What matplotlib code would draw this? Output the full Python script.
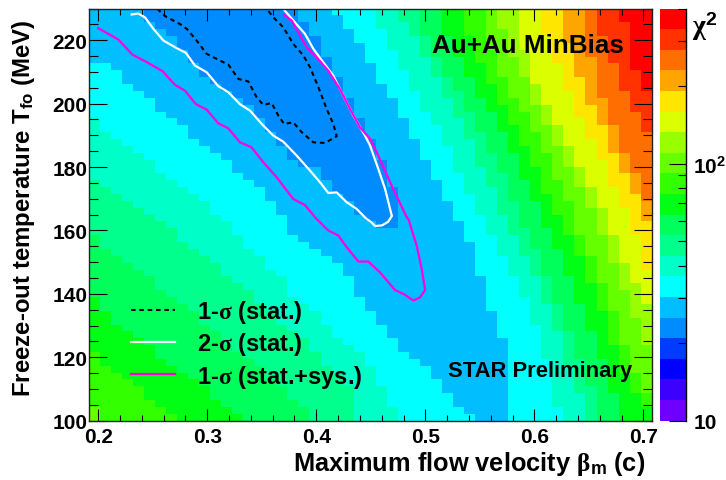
import numpy as np
import matplotlib
matplotlib.use("Agg")
import matplotlib.pyplot as plt
from matplotlib.colors import ListedColormap, BoundaryNorm
from matplotlib.ticker import FixedLocator, NullFormatter

plt.rcParams['font.family'] = ['Liberation Sans', 'DejaVu Sans']
plt.rcParams['font.weight'] = 'bold'
plt.rcParams['mathtext.fontset'] = 'custom'
plt.rcParams['mathtext.rm'] = 'Liberation Serif'
plt.rcParams['mathtext.bf'] = 'Liberation Sans:bold'
plt.rcParams['mathtext.default'] = 'rm'

W, H = 726, 481
NCOL, NROW = 51, 60

palette = ['#6e00ff', '#3c00ff', '#0000ff', '#003cff', '#008cff', '#00beff', '#00ffff',
           '#00ffc8', '#00ff8c', '#00ff5a', '#00ff14', '#32ff00', '#66ff00', '#99ff00',
           '#dcff00', '#ffe600', '#ffa500', '#ff6e00', '#ff3200', '#ff0000']

# Band limits read per row (row 0 = bottom): column where the band starts, right-hand side
right_b6 = [38]*12 + [37,37,37,37,36,36,36,36,36,35,35,35,35,35,34,34,34,33,33,33,32,32,32,31,31,31,
            30,30,30,29,29,29,28,28,28,27,27,26,26,26,25,25,25,24,24,23,23,22]
right_b7 = [43,43,42,42,42,42,42,42,42,41,41,41,41,41,40,40,40,40,39,39,39,38,38,38,37,37,37,36,36,36,
            35,35,35,34,34,34,33,33,33,33,32,32,32,31,31,30,30,30,29,29,29,28,28,28,27,27,27,26,26,26]
right_b8 = [45,45,45,45,44,44,44,44,43,43,43,43,43,42,42,42,42,41,41,41,41,40,40,40,39,39,39,38,38,38,
            37,37,37,37,36,36,36,35,35,35,35,34,34,34,33,33,33,32,32,32,31,31,31,30,30,30,29,29,28,28]
right_b9 = [46,46,46,46,46,45,45,45,45,44,44,44,44,43,43,43,43,42,42,42,42,41,41,41,41,40,40,40,39,39,39,39,
            38,38,38,38,37,37,37,36,36,36,35,35,35,34,34,34,33,33,32,32,32,31,31,31,30,30,30,30]
right_b10 = [48,48,48,48,47,47,47,47,47,46,46,46,46,45,45,45,45,44,44,44,44,43,43,43,43,42,42,42,41,41,41,41,
             40,40,40,39,39,39,39,38,38,38,37,37,37,36,36,35,35,35,34,34,34,33,33,33,32,32,32,32]
right_b11 = [51,51,50,50,49,49,49,48,48,48,48,47,47,47,47,47,46,46,46,46,45,45,45,45,44,44,44,43,43,43,
             42,42,42,41,41,41,41,40,40,40,39,39,39,38,38,38,37,37,37,36,36,36,35,35,35,35,34,34,34,34]
right_b12 = [51,51,51,51,50,50,50,49,49,49,49,48,48,48,48,48,47,47,47,47,46,46,46,46,45,45,45,44,44,44,44,44,
             43,43,43,42,42,42,42,41,41,41,40,40,40,39,39,38,38,38,37,37,37,37,36,36,36,36,36,36]
right_b13 = [51]*11 + [50,50,50,50,49,49,49,49,48,48,48,48,47,47,47,47,46,46,46,46,
                       45,45,45,44,44,44,43,43,43,42,42,42,41,41,41,40,40,40,40,39,39,39,38,38,38,38,37,37,37]
right_b14 = [51]*17 + [50,50,50,49,49,49,48,48,48,48,47,47,47,47,46,46,46,45,45,45,44,44,44,
                       43,43,43,42,42,42,41,41,41,40,40,40,40,40,39,39,39,39,39,39]
right_b15 = [51]*22 + [50,50,50,50,50,49,49,49,49,48,48,48,47,47,47,47,46,46,46,45,45,45,
                       44,44,44,44,43,43,43,43,42,42,42,42,41,41,41,41]
right_b16 = [51]*29 + [50,50,50,50,49,49,49,48,48,48,47,47,47,47,46,46,46,45,45,45,45,
                       44,44,44,44,44,43,43,43,43,43]
right_b17 = [51]*32 + [50,50,50,50,49,49,49,48,48,48,48,47,47,47,47,46,46,46,46,46,46,45,45,45,45,45,45,45]
right_b18 = [51]*42 + [50,50,50,49,49,49,48,48,48,48,47,47,47,47,46,46,46,46]
right_b19 = [51]*48 + [50,50,50,49,49,49,49,49,49,49,48,48]

# Left-hand side: columns below this one belong to the band
left_b6 = [35,34,33,33,32,32,31,31,30,29,28,28,27,27,26,26,25,25,24,24,24,23,23,22,21,20,19,18,18,18,
           17,17,16,16,15,14,13,13,12,11,10,9,9,8,7,6,6,5,4,3,3,2]
left_b7 = [28,28,27,27,27,26,26,26,25,25,24,23,22,22,21,21,20,19,18,18,18,17,16,16,15,14,14,13,13,12,
           11,11,10,9,8,7,6,6,5,4,3,2,1,1]
left_b8 = [24,24,24,24,24,23,23,22,21,21,20,20,19,18,17,17,16,15,15,14,13,12,12,11,10,9,8,8,7,6,5,4,3,2,1]
left_b9 = [20,20,19,18,18,17,16,16,15,14,13,12,12,11,10,10,9,8,7,6,6,5,4,3,2,1,1]
left_b10 = [14,13,12,11,11,10,9,8,7,6,6,5,4,3,2,2,1,1]
left_b11 = [8,7,6,5,5,4,3,2,1,1]
left_b12 = [1,1]

# Darkest (minimum) island: first and last+1 column for rows 28..59
island_start = [26,25,24,24,23,22,22,21,21,19,18,18,17,17,16,16,15,15,14,13,12,11,10,10,9,9,8,8,7,6,5,5]
island_stop = [28,28,28,28,28,28,27,27,27,27,26,26,26,25,25,25,24,24,24,23,23,23,22,22,22,21,21,21,20,20,19,19]
island_first_row = 28

# Contours (velocity, temperature)
sig1_x = [.2541,.2612,.2749,.2811,.2902,.2994,.3116,.3193,.3285,.3376,.3453,.3514,.3590,.3652,.3704,
          .3789,.3866,.3973,.4080,.4187,.4156,.4095,.4019,.3942,.3881,.3789,.3697,.3606,.3545]
sig1_y = [229.9,227.6,225.1,223.6,219.9,215.7,213.6,212.3,207.8,207.0,202.0,199.6,200.2,196.2,193.6,
          194.1,191.0,187.8,187.6,189.7,193.6,198.3,205.2,211.5,215.2,218.8,224.1,227.2,229.9]
sig2_x = [.2306,.2367,.2428,.2505,.2597,.2719,.2804,.2887,.2994,.3101,.3193,.3300,.3392,.3499,.3606,.3697,
          .3820,.3942,.4034,.4110,.4187,.4279,.4370,.4462,.4502,.4539,.4603,.4658,.4694,.4692,.4631,.4569,
          .4493,.4447,.4340,.4248,.4156,.4064,.3973,.3896,.3789,.3697]
sig2_y = [228.1,228.4,227.2,223.6,219.9,217.5,216.0,212.0,209.9,205.5,203.6,199.8,197.8,193.6,189.9,188.0,
          183.6,178.9,175.2,171.8,172.0,168.9,166.8,163.6,162.7,161.4,161.6,162.7,164.6,164.7,173.1,179.4,
          186.8,189.9,196.2,202.5,208.8,213.0,217.3,222.0,226.2,229.9]
sys_x = [.2000,.2184,.2315,.2444,.2590,.2704,.2795,.2893,.2994,.3101,.3193,.3300,.3407,.3514,.3636,.3789,
         .3896,.4003,.4110,.4202,.4279,.4386,.4477,.4584,.4722,.4799,.4891,.4952,.4998,.4967,.4921,.4845,
         .4829,.4692,.4554,.4493,.4401,.4309,.4217,.4110,.4003,.3911,.3835,.3774,.3704]
sys_y = [223.8,220.2,215.4,213.1,210.2,205.9,204.1,199.9,198.1,193.8,192.2,187.8,186.2,181.5,176.8,169.9,
         168.0,163.6,160.0,158.4,154.7,150.2,150.2,146.8,141.2,140.0,137.9,138.9,141.2,147.9,155.2,163.6,
         164.2,174.1,184.7,188.9,192.5,198.3,204.6,210.4,214.6,217.8,222.5,226.2,228.0]

legend_labels = [r'1-$\sigma$ (stat.)', r'2-$\sigma$ (stat.)', r'1-$\sigma$ (stat.+sys.)']
xticks_major = [0.2, 0.3, 0.4, 0.5, 0.6, 0.7]
yticks_major = [100, 120, 140, 160, 180, 200, 220]

# Build the band grid
grid = np.full((NROW, NCOL), 5, dtype=int)
for band, edge in [(6, right_b6), (7, right_b7), (8, right_b8), (9, right_b9), (10, right_b10),
                   (11, right_b11), (12, right_b12), (13, right_b13), (14, right_b14), (15, right_b15),
                   (16, right_b16), (17, right_b17), (18, right_b18), (19, right_b19)]:
    for r, k in enumerate(edge[:NROW]):
        grid[r, k:] = band
for band, edge in [(6, left_b6), (7, left_b7), (8, left_b8), (9, left_b9),
                   (10, left_b10), (11, left_b11), (12, left_b12)]:
    for r, k in enumerate(edge[:NROW]):
        grid[r, :k] = band
for i, (a, b) in enumerate(zip(island_start, island_stop)):
    grid[island_first_row + i, a:b] = 4

chi_lo, chi_hi = 10.0, 401.0
levels = np.logspace(np.log10(chi_lo), np.log10(chi_hi), len(palette) + 1)
centers = np.sqrt(levels[:-1] * levels[1:])
chi2 = centers[grid]
cmap = ListedColormap(palette)
norm = BoundaryNorm(levels, cmap.N)

fig = plt.figure(figsize=(W / 100, H / 100), dpi=100)
L, R, T, B = 88.7, 651.7, 9.5, 421.7
ax = fig.add_axes([L / W, 1 - B / H, (R - L) / W, (B - T) / H])
xmin, xmax = 0.1912, 0.7077
ymin, ymax = 100.0, 230.0
xe = np.linspace(xmin, xmax, NCOL + 1)
ye = np.linspace(ymin, ymax, NROW + 1)
ax.pcolormesh(xe, ye, chi2, cmap=cmap, norm=norm, shading='flat', rasterized=True)
ax.set_xlim(xmin, xmax)
ax.set_ylim(ymin, ymax)

l1, = ax.plot(sig1_x, sig1_y, color='k', lw=1.5, ls=(0, (2.2, 1.8)))
l2, = ax.plot(sig2_x, sig2_y, color='white', lw=1.6)
l3, = ax.plot(sys_x, sys_y, color='#ff00e6', lw=1.6)

ax.set_xticks(xticks_major)
ax.set_xticks(np.arange(0.2, 0.7001, 0.02), minor=True)
ax.set_yticks(yticks_major)
ax.set_yticks(np.arange(100, 231, 5), minor=True)
ax.tick_params(axis='x', which='major', direction='in', top=True, bottom=True, length=8.4, width=0.8,
               labelsize=15, pad=4.5)
ax.tick_params(axis='x', which='minor', direction='in', top=True, bottom=True, length=4, width=0.8)
ax.tick_params(axis='y', which='major', direction='in', left=True, right=True, length=13, width=0.8,
               labelsize=15, pad=1)
ax.tick_params(axis='y', which='minor', direction='in', left=True, right=True, length=6.6, width=0.8)
for s in ax.spines.values():
    s.set_linewidth(1.0)
    s.set_color('#222222')

ax.set_xlabel(r'Maximum flow velocity $\beta_{\mathbf{m}}$ (c)', fontsize=18.3, fontweight='bold',
              ha='right', va='center')
ax.xaxis.set_label_coords(0.988, -0.102)
ax.set_ylabel(r'Freeze-out temperature T$_{\mathbf{fo}}$ (MeV)', fontsize=17.3, fontweight='bold',
              ha='right', va='center')
ax.yaxis.set_label_coords(-0.116, 0.9745)

ax.text(0.5061, 218.5, 'Au+Au MinBias', fontsize=18.7, fontweight='bold', ha='left', va='center')
ax.text(0.5212, 115.7, 'STAR Preliminary', fontsize=15.8, fontweight='bold', ha='left', va='center')

ax.legend([l1, l2, l3], legend_labels, frameon=False, loc='upper left', bbox_to_anchor=(0.075, 0.297),
          borderpad=0, borderaxespad=0, handlelength=1.87, handletextpad=0.93, labelspacing=0.22,
          fontsize=17)

# Colour scale
cax = fig.add_axes([660 / W, 1 - B / H, 26.3 / W, (B - T) / H])
cax.pcolormesh([0, 1], levels, np.array(centers).reshape(-1, 1), cmap=cmap, norm=norm, shading='flat')
cax.set_yscale('log')
cax.set_ylim(chi_lo, chi_hi)
cax.set_xlim(0, 1)
cax.set_xticks([])
for side in ['top', 'left', 'bottom']:
    cax.spines[side].set_visible(False)
cax.spines['right'].set_linewidth(1.0)
cax.yaxis.tick_right()
cax.yaxis.set_major_locator(FixedLocator([10, 100]))
cax.yaxis.set_minor_locator(FixedLocator([20, 30, 40, 50, 60, 70, 80, 90, 200, 300, 400]))
cax.yaxis.set_minor_formatter(NullFormatter())
cax.set_yticklabels(['10', r'$\mathbf{10^{2}}$'], fontsize=15, fontweight='bold')
cax.tick_params(axis='y', which='major', direction='in', length=12.5, width=0.8, pad=5)
cax.tick_params(axis='y', which='minor', direction='in', length=6, width=0.8)
fig.text(692 / W, 1 - 27 / H, r'$\chi^{\mathbf{2}}$', fontsize=20, ha='left', va='center')

fig.savefig('out.png', dpi=100)
